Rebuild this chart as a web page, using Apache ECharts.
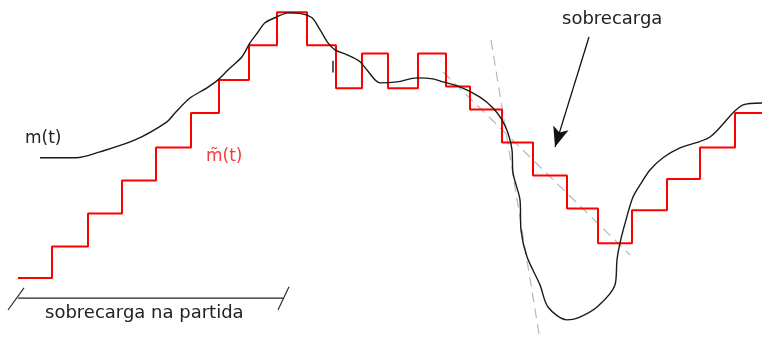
<!DOCTYPE html>
<html>
<head>
<meta charset="utf-8">
<script src="https://cdn.jsdelivr.net/npm/echarts@6/dist/echarts.min.js"></script>
<style>
  html, body { margin: 0; padding: 0; background: #fff; }
  #chart { width: 762px; height: 340px; }
</style>
</head>
<body>
<div id="chart"></div>
<script>
// Time axis (t) and amplitude axis in quantiser steps (delta = 1)
const tRange = [0, 76.2];
const ampRange = [-1.88, 8.42];

// Message signal m(t)
const msgT = [4.0, 7.6, 10.0, 13.5, 16.7, 17.5, 19.0, 20.7, 21.8, 23.0, 24.2, 25.0, 25.8, 26.5,
  27.7, 28.8, 30.2, 31.2, 32.0, 32.8, 33.5, 34.7, 36.0, 36.7, 38.0, 39.7, 41.7, 43.3, 44.3,
  46.0, 48.0, 49.3, 50.2, 50.8, 51.2, 51.3, 52.0, 52.1, 52.7, 54.0, 54.8, 56.7, 57.8, 59.7,
  61.5, 61.7, 62.0, 62.6, 63.3, 64.2, 65.0, 66.3, 68.0, 71.0, 74.3, 76.2];
const msgV = [3.64, 3.64, 3.82, 4.18, 4.73, 5.0, 5.45, 5.76, 6.0, 6.36, 6.70, 7.12, 7.45, 7.73,
  7.91, 8.03, 8.0, 7.88, 7.52, 7.12, 6.91, 6.76, 6.55, 6.30, 5.91, 5.94, 6.06, 6.03, 5.94,
  5.79, 5.48, 5.15, 4.79, 4.39, 3.88, 3.18, 2.36, 1.45, 0.64, -0.21, -0.88, -1.27, -1.21, -0.88,
  -0.21, 0.55, 1.06, 1.76, 2.45, 2.91, 3.27, 3.64, 3.94, 4.27, 5.24, 5.30];
// short stray stroke of m(t)
const strokeT = [33.3, 33.3];
const strokeV = [6.58, 6.22];

// Staircase approximation m~(t): level held from each sample instant
const stepT = [1.8, 5.2, 8.8, 12.2, 15.6, 19.1, 21.9, 24.9, 27.7, 30.7, 33.6, 36.2, 38.8,
  41.8, 44.6, 47.0, 50.2, 53.3, 56.7, 59.8, 63.2, 66.7, 70.0, 73.5, 76.2];
const stepV = [0, 0.95, 1.95, 2.95, 3.95, 5.0, 6.0, 7.05, 8.05, 7.05, 5.75, 6.8, 5.75,
  6.8, 5.8, 5.1, 4.1, 3.1, 2.1, 1.05, 2.05, 3.0, 3.95, 5.0, 5.0];

// Slope guides (dashed)
const steepT = [49.1, 54.0];
const steepV = [7.21, -1.88];
const maxSlopeT = [44.3, 63.0];
const maxSlopeV = [6.24, 0.70];

// Start-up overload bracket
const bracketT = [1.8, 28.3];
const bracketV = [-0.61, -0.61];
const tickLT = [0.8, 2.4];
const tickLV = [-0.97, -0.30];
const tickRT = [27.8, 28.9];
const tickRV = [-0.97, -0.27];

// Overload arrow
const arrowFrom = [58.9, 7.30];
const arrowTo = [55.5, 3.97];

const zip = (a, b) => a.map((v, i) => [v, b[i]]);

const chart = echarts.init(document.getElementById('chart'), null, { renderer: 'canvas' });

const plain = (data, color, width, extra) => Object.assign({
  type: 'line', data: data, symbol: 'none', silent: true, animation: false,
  lineStyle: { color: color, width: width }
}, extra || {});

const font = '"DejaVu Sans", "Liberation Sans", sans-serif';
const dashed = { color: '#b8b8b8', width: 1.2, type: [10, 6] };

chart.setOption({
  animation: false,
  backgroundColor: '#ffffff',
  grid: { left: 0, right: 0, top: 0, bottom: 0 },
  xAxis: { type: 'value', min: tRange[0], max: tRange[1], show: false },
  yAxis: { type: 'value', min: ampRange[0], max: ampRange[1], show: false },
  series: [
    plain(zip(steepT, steepV), '#b8b8b8', 1.2, { lineStyle: dashed }),
    plain(zip(maxSlopeT, maxSlopeV), '#b8b8b8', 1.2, { lineStyle: dashed }),
    plain(zip(stepT, stepV), '#ff0000', 2, { step: 'end' }),
    plain(zip(msgT, msgV), '#1a1a1a', 1.4, { smooth: 0.3 }),
    plain(zip(strokeT, strokeV), '#1a1a1a', 1.4),
    plain(zip(bracketT, bracketV), '#222', 1.3),
    plain(zip(tickLT, tickLV), '#222', 1.1),
    plain(zip(tickRT, tickRV), '#222', 1.1),
    {
      type: 'line', data: [], silent: true,
      markLine: {
        silent: true, animation: false,
        symbol: ['none', 'arrow'], symbolSize: [12, 20],
        label: { show: false },
        lineStyle: { color: '#111', width: 1.3, type: 'solid' },
        data: [[{ coord: arrowFrom }, { coord: arrowTo }]]
      }
    }
  ],
  graphic: [
    { type: 'text', left: 25, top: 130, style: { text: 'm(t)', font: '17px ' + font, fill: '#222' } },
    { type: 'text', left: 206, top: 148, style: { text: 'm\u0303(t)', font: '17px ' + font, fill: '#f03c3c' } },
    { type: 'text', left: 562, top: 10, style: { text: 'sobrecarga', font: '18px ' + font, fill: '#222' } },
    { type: 'text', left: 45, top: 304, style: { text: 'sobrecarga na partida', font: '18px ' + font, fill: '#222' } }
  ]
});
</script>
</body>
</html>
